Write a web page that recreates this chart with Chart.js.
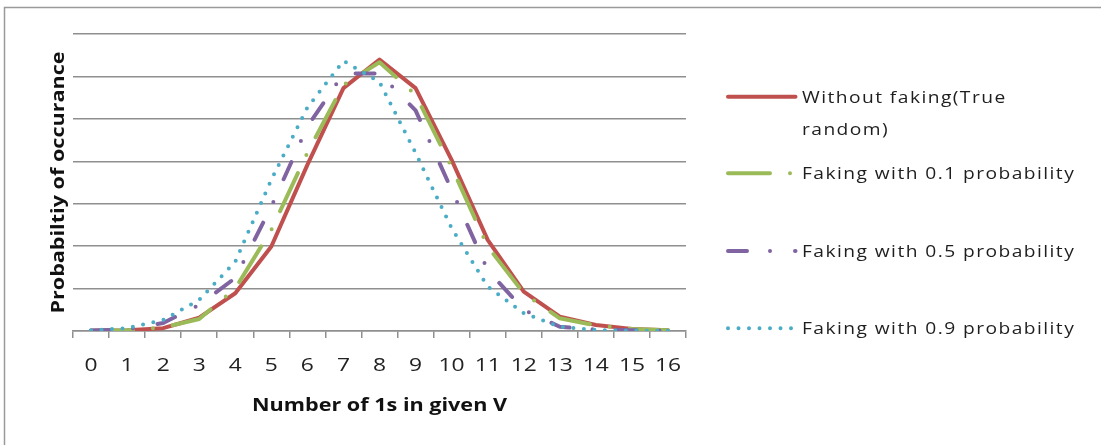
<!DOCTYPE html>
<html>
<head>
<meta charset="utf-8">
<script src="https://cdn.jsdelivr.net/npm/chart.js@4.4.1/dist/chart.umd.min.js"></script>
<style>
  html, body { margin: 0; padding: 0; background: #ffffff; }
  #wrap { position: relative; width: 1101px; height: 445px; }
  canvas { display: block; }
</style>
</head>
<body>
<div id="wrap"><canvas id="chart" width="1101" height="445"></canvas></div>
<script>
// Number of 1s observed in a 16-bit vector V
const categories = ['0', '1', '2', '3', '4', '5', '6', '7', '8', '9', '10', '11', '12', '13', '14', '15', '16'];

// Probability of each count, per generation method
const withoutFaking = [0.0002, 0.0005, 0.0020, 0.0094, 0.0267, 0.0597, 0.1175, 0.1717, 0.1920, 0.1717, 0.1210, 0.0644, 0.0278, 0.0101, 0.0042, 0.0015, 0.0005];
const faking01      = [0.0002, 0.0006, 0.0025, 0.0085, 0.0300, 0.0715, 0.1260, 0.1740, 0.1900, 0.1670, 0.1160, 0.0597, 0.0267, 0.0090, 0.0040, 0.0015, 0.0005];
const faking05      = [0.0003, 0.0010, 0.0057, 0.0184, 0.0375, 0.0880, 0.1445, 0.1820, 0.1820, 0.1560, 0.0998, 0.0430, 0.0150, 0.0030, 0.0010, 0.0005, 0.0002];
const faking09      = [0.0005, 0.0020, 0.0078, 0.0220, 0.0490, 0.1070, 0.1580, 0.1910, 0.1760, 0.1260, 0.0727, 0.0314, 0.0127, 0.0030, 0.0007, 0.0003, 0.0001];

const seriesNames = [
  ['Without faking(True', 'random)'],
  ['Faking with 0.1 probability'],
  ['Faking with 0.5 probability'],
  ['Faking with 0.9 probability']
];

const yMax = 0.21;
const yStep = 0.03;

const xTitle = 'Number of 1s in given V';
const yTitle = 'Probabiltiy of occurance';

// Styling
const COLORS = ['#C0504D', '#9BBB59', '#8064A2', '#4BACC6'];
const DASHES = [[], [42, 20, 0, 20], [19, 23, 0, 25], [0, 10.5]];
const GRID = '#8f8f8f';
const FONT = "'Open Sans', 'Liberation Sans', sans-serif";
const TEXT_SCALE_X = 1.2;

const canvas = document.getElementById('chart');
const ctx = canvas.getContext('2d');

// Labels in this chart are set slightly wide: every string is drawn with a horizontal scale.
(function widenText(c) {
  const fill = c.fillText;
  c.fillText = function (text, x, y) {
    this.save();
    this.translate(x, y);
    this.scale(TEXT_SCALE_X, 1);
    fill.call(this, text, 0, 0);
    this.restore();
  };
})(ctx);

// White page with the frame lines along the top and left edges
const framePlugin = {
  id: 'frame',
  beforeDraw(chart) {
    const c = chart.ctx;
    c.save();
    c.fillStyle = '#ffffff';
    c.fillRect(0, 0, chart.width, chart.height);
    c.strokeStyle = '#9a9a9a';
    c.lineWidth = 1.5;
    c.beginPath();
    c.moveTo(4.5, chart.height);
    c.lineTo(4.5, 7.5);
    c.lineTo(chart.width, 7.5);
    c.stroke();
    c.restore();
  }
};

// Legend on the right side, one row per series
const LEGEND = {
  lineStart: 728,
  lineEnd: 795.5,
  textX: 802,
  rowY: [96.7, 173.3, 251, 328.3],
  lineGap: 32,
  fontSize: 16,
  letterSpacing: '1.2px'
};

const sideLegendPlugin = {
  id: 'sideLegend',
  afterDraw(chart) {
    const c = chart.ctx;
    chart.data.datasets.forEach((ds, i) => {
      const y = LEGEND.rowY[i];
      c.save();
      c.strokeStyle = ds.borderColor;
      c.lineWidth = ds.borderWidth;
      c.lineCap = 'round';
      c.setLineDash(ds.borderDash || []);
      c.beginPath();
      c.moveTo(LEGEND.lineStart, y);
      c.lineTo(LEGEND.lineEnd, y);
      c.stroke();
      c.restore();

      c.save();
      c.font = LEGEND.fontSize + 'px ' + FONT;
      c.fillStyle = '#1e1e1e';
      c.textAlign = 'left';
      c.textBaseline = 'middle';
      if ('letterSpacing' in c) c.letterSpacing = LEGEND.letterSpacing;
      const lines = seriesNames[i];
      lines.forEach((line, k) => {
        c.fillText(line, LEGEND.textX, y + 1.5 + k * LEGEND.lineGap);
      });
      c.restore();
    });
  }
};

const seriesData = [withoutFaking, faking01, faking05, faking09];

const datasets = seriesData.map((values, i) => ({
  label: seriesNames[i].join(' '),
  data: values,
  borderColor: COLORS[i],
  backgroundColor: COLORS[i],
  borderWidth: 4,
  borderDash: DASHES[i],
  borderCapStyle: 'round',
  borderJoinStyle: 'round',
  pointRadius: 0,
  pointHoverRadius: 0,
  tension: 0,
  fill: false,
  order: seriesData.length - i
}));

new Chart(ctx, {
  type: 'line',
  data: { labels: categories, datasets },
  plugins: [framePlugin, sideLegendPlugin],
  options: {
    responsive: false,
    animation: false,
    events: [],
    devicePixelRatio: 1,
    layout: { padding: { top: 34, right: 415, left: 48, bottom: 28 } },
    plugins: {
      legend: { display: false },
      tooltip: { enabled: false },
      title: { display: false }
    },
    scales: {
      x: {
        type: 'category',
        offset: true,
        grid: {
          display: true,
          drawOnChartArea: false,
          drawTicks: true,
          tickLength: 7,
          offset: true,
          color: GRID,
          lineWidth: 1.5
        },
        border: { display: true, color: GRID, width: 1.5 },
        ticks: {
          font: { family: FONT, size: 19 },
          color: '#222222',
          padding: 16,
          maxRotation: 0,
          autoSkip: false
        },
        title: {
          display: true,
          text: xTitle,
          font: { family: FONT, size: 18, weight: 'bold' },
          color: '#111111',
          padding: 0
        },
        afterFit(scale) { scale.height = 86; }
      },
      y: {
        min: 0,
        max: yMax,
        ticks: { display: false, stepSize: yStep },
        grid: { color: GRID, lineWidth: 1.5, drawTicks: false },
        border: { display: false },
        title: {
          display: true,
          text: yTitle,
          font: { family: FONT, size: 18, weight: 'bold' },
          color: '#111111',
          padding: 0
        },
        afterFit(scale) { scale.width = 25; }
      }
    }
  }
});
</script>
</body>
</html>
